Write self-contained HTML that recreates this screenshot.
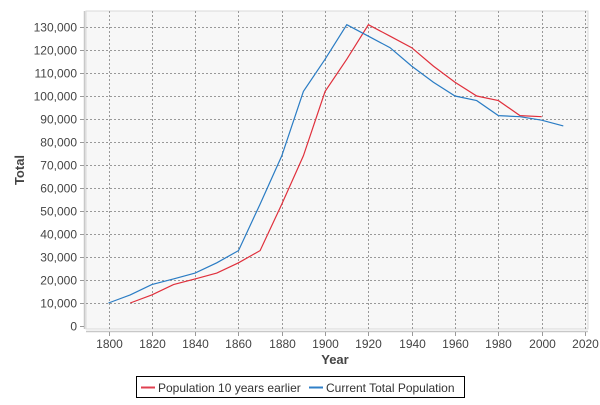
<!DOCTYPE html>
<html><head><meta charset="utf-8"><style>
body{margin:0;background:#fff;font-family:"Liberation Sans",sans-serif;}
svg text{font-family:"Liberation Sans",sans-serif;}
</style></head><body>
<svg id="chart" width="600" height="400">
<rect x="86" y="11" width="502" height="318" fill="#f7f7f7" stroke="#d8d8d8"/>
<g id="grid"></g>
<line x1="84.5" y1="11" x2="84.5" y2="329" stroke="#c8c8c8" stroke-width="1.5"/>
<line x1="86" y1="331.5" x2="588" y2="331.5" stroke="#c8c8c8" stroke-width="1.5"/>
<g id="yticks"></g><g id="xticks"></g><g id="series"></g>
<text x="335" y="364" text-anchor="middle" font-size="13" font-weight="bold" fill="#444">Year</text>
<text transform="translate(24,170) rotate(-90)" text-anchor="middle" font-size="13" font-weight="bold" fill="#444">Total</text>
<g>
<rect x="136.5" y="376.5" width="328" height="21" fill="#fff" stroke="#000"/>
<line x1="141" y1="387.5" x2="155" y2="387.5" stroke="#e04050" stroke-width="2"/>
<text x="158" y="392" font-size="12" fill="#333">Population 10 years earlier</text>
<line x1="309" y1="387.5" x2="323" y2="387.5" stroke="#3080c8" stroke-width="2"/>
<text x="326" y="392" font-size="12" fill="#333">Current Total Population</text>
</g>
</svg>
<script>
const years = [1800,1810,1820,1830,1840,1850,1860,1870,1880,1890,1900,1910,1920,1930,1940,1950,1960,1970,1980,1990,2000,2010];
const currentPop = [10000,13500,18000,20500,23000,27500,32800,53000,74000,102000,116000,131000,126000,121000,113000,106000,100000,98000,91500,91000,89500,87000];
const earlierYears = [1810,1820,1830,1840,1850,1860,1870,1880,1890,1900,1910,1920,1930,1940,1950,1960,1970,1980,1990,2000];
const earlierPop = [10000,13500,18000,20500,23000,27500,32800,53000,74000,102000,116000,131000,126000,121000,113000,106000,100000,98000,91500,91000];
const xTicks = [1800,1820,1840,1860,1880,1900,1920,1940,1960,1980,2000,2020];
const yTicks = [0,10000,20000,30000,40000,50000,60000,70000,80000,90000,100000,110000,120000,130000];
const NS="http://www.w3.org/2000/svg";
function xs(v){return 108.5+(v-1800)*(585-108.5)/220;}
function ys(v){return 326-v*(326-27)/130000;}
function mk(t,a,p){const e=document.createElementNS(NS,t);for(const k in a)e.setAttribute(k,a[k]);p.appendChild(e);return e;}
const grid=document.getElementById('grid'),yt=document.getElementById('yticks'),xt=document.getElementById('xticks'),ser=document.getElementById('series');
yTicks.forEach(v=>{const y=Math.round(ys(v))+0.5;
 if(v>0){const g=mk('line',{x1:86,x2:588,y1:y,y2:y,stroke:'#999','stroke-dasharray':'2,2'},grid);
 
 }
 const tk=mk('line',{x1:80,x2:84,y1:y,y2:y,stroke:'#999'},yt);
 
 
 const t=mk('text',{x:77,y:y+4,'text-anchor':'end','font-size':12,fill:'#444'},yt);t.textContent=v.toLocaleString('en-US');
 
 });
xTicks.forEach(v=>{const x=Math.round(xs(v))+0.5;
 const g=mk('line',{x1:x,x2:x,y1:11,y2:329,stroke:'#999','stroke-dasharray':'2,2'},grid);
 
 
 const tk=mk('line',{x1:x,x2:x,y1:332,y2:336,stroke:'#999'},xt);
 
 
 const t=mk('text',{x:x,y:348,'text-anchor':'middle','font-size':12,fill:'#444'},xt);t.textContent=v;
 
 });
function line(xsv,vals,color,name){const pts=xsv.map((x,i)=>xs(x).toFixed(1)+','+ys(vals[i]).toFixed(1)).join(' ');
 const p=mk('polyline',{points:pts,fill:'none',stroke:color,'stroke-width':1.2},ser);
 
 }
line(earlierYears,earlierPop,'#e0303c','line-population-10-years-earlier');
line(years,currentPop,'#2a7cc4','line-current-total-population');
</script>
</body></html>
